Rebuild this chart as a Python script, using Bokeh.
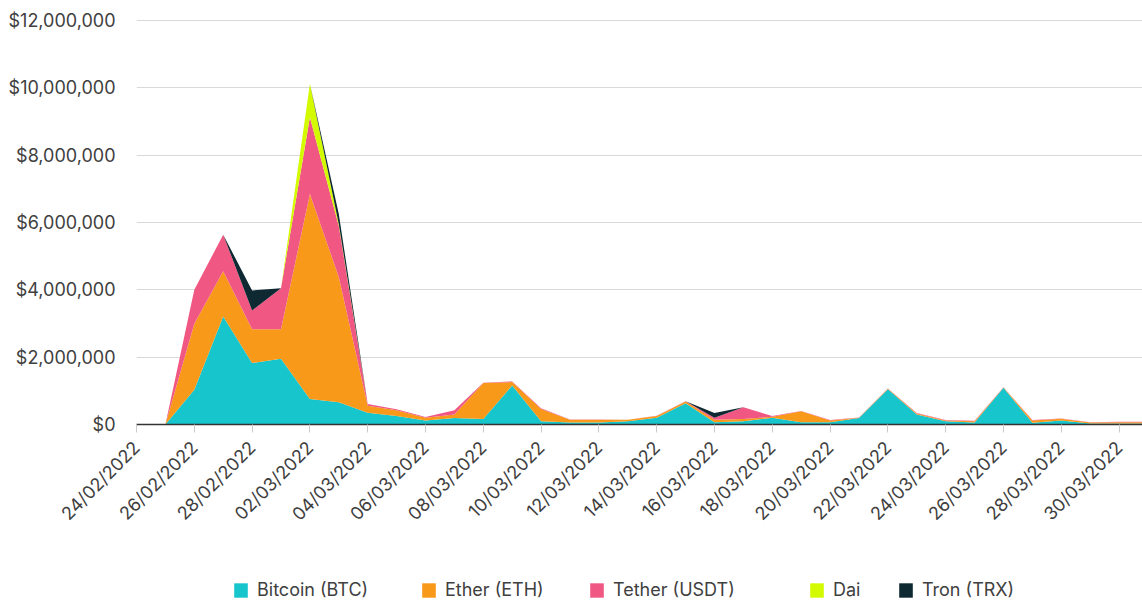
import math
import pandas as pd
from bokeh.plotting import figure
from bokeh.layouts import column
from bokeh.models import (ColumnDataSource, Range1d, FixedTicker, NumeralTickFormatter,
                          Legend, LegendItem)
from bokeh.embed import file_html
from bokeh.resources import INLINE

# ---- data (USD millions per day) ----
dates = pd.date_range("2022-02-24", "2022-03-31", freq="D").strftime("%d/%m/%Y").tolist()

btc = [0, 0, 1.03, 3.21, 1.83, 1.95, 0.76, 0.66, 0.35, 0.25, 0.12, 0.19, 0.16, 1.16,
       0.10, 0.06, 0.06, 0.10, 0.20, 0.63, 0.07, 0.10, 0.20, 0.07, 0.07, 0.19, 1.05,
       0.30, 0.10, 0.06, 1.09, 0.05, 0.12, 0.03, 0.03, 0.03]
eth = [0, 0, 1.96, 1.34, 1.00, 0.88, 6.09, 3.72, 0.21, 0.17, 0.08, 0.11, 1.07, 0.10,
       0.36, 0.08, 0.08, 0.04, 0.05, 0.05, 0.07, 0.06, 0.03, 0.32, 0.05, 0.01, 0.01,
       0.03, 0.02, 0.04, 0.01, 0.07, 0.05, 0.03, 0.04, 0.04]
usdt = [0, 0, 1.01, 1.09, 0.56, 1.22, 2.28, 1.52, 0.05, 0.03, 0.02, 0.12, 0.01, 0.02,
        0.02, 0.01, 0.01, 0.00, 0.01, 0.01, 0.06, 0.35, 0.02, 0.01, 0.01, 0.01, 0.01,
        0.01, 0.01, 0.01, 0.01, 0.01, 0.01, 0.01, 0.01, 0.01]
dai = [0, 0, 0, 0, 0, 0, 0.99, 0.05, 0, 0, 0, 0, 0, 0, 0, 0, 0, 0, 0, 0, 0, 0, 0, 0,
       0, 0, 0, 0, 0, 0, 0, 0, 0, 0, 0, 0]
trx = [0, 0, 0, 0, 0.59, 0, 0, 0.30, 0, 0, 0, 0, 0, 0, 0, 0, 0, 0, 0, 0, 0.14, 0, 0, 0,
       0, 0, 0, 0, 0, 0, 0, 0, 0, 0, 0, 0]

series_names = ["Bitcoin (BTC)", "Ether (ETH)", "Tether (USDT)", "Dai", "Tron (TRX)"]
series_keys = ["btc", "eth", "usdt", "dai", "trx"]
colors = ["#17c6cd", "#f9991a", "#f05883", "#d4fa00", "#0e2932"]
y_ticks = [0, 2e6, 4e6, 6e6, 8e6, 10e6, 12e6]

M = 1e6
source = ColumnDataSource(dict(
    x=list(range(len(dates))),
    btc=[v * M for v in btc],
    eth=[v * M for v in eth],
    usdt=[v * M for v in usdt],
    dai=[v * M for v in dai],
    trx=[v * M for v in trx],
))

FONT = "Inter"
TXT = "#404040"

p = figure(width=1142, height=540, output_backend="svg", toolbar_location=None,
           x_range=Range1d(0, 34.81), y_range=Range1d(0, 12.18e6),
           min_border_left=136, min_border_right=0, min_border_top=14,
           min_border_bottom=116)
p.outline_line_color = None

renderers = p.varea_stack(stackers=series_keys, x="x", color=colors, source=source)

# axes
xa = p.xaxis[0]
xa.ticker = FixedTicker(ticks=list(range(0, 35, 2)))
xa.major_label_overrides = {i: dates[i] for i in range(0, 35, 2)}
xa.major_label_orientation = math.pi / 4
xa.major_label_text_font = FONT
xa.major_label_text_font_size = "18px"
xa.major_label_text_color = TXT
xa.axis_line_color = "#333333"
xa.axis_line_width = 1.5
xa.major_tick_line_color = "#cccccc"
xa.major_tick_out = 8
xa.major_tick_in = 0
xa.minor_tick_line_color = None
xa.major_label_standoff = 12

ya = p.yaxis[0]
ya.ticker = FixedTicker(ticks=y_ticks)
ya.formatter = NumeralTickFormatter(format="$0,0")
ya.major_label_text_font = FONT
ya.major_label_text_font_size = "18px"
ya.major_label_text_color = TXT
ya.axis_line_color = None
ya.major_tick_line_color = None
ya.minor_tick_line_color = None
ya.major_label_standoff = 15

p.xgrid.grid_line_color = None
p.ygrid.grid_line_color = "#d9d9d9"
p.ygrid.grid_line_width = 1

# ---- legend strip below the chart (its frame is aligned with the chart frame) ----
lg = figure(width=1142, height=64, output_backend="svg", toolbar_location=None,
            x_range=Range1d(-3, -2), y_range=Range1d(0, 1),
            x_axis_type=None, y_axis_type=None,
            min_border_left=136, min_border_right=0, min_border_top=0, min_border_bottom=0)
lg.outline_line_color = None
lg.xgrid.visible = False
lg.ygrid.visible = False

# same stacked series (outside this strip's visible range) only to supply legend swatches
legend_renderers = lg.varea_stack(stackers=series_keys, x="x", color=colors, source=source)

legend_x = [96, 284, 452, 672, 761]
for name, r, lx in zip(series_names, legend_renderers, legend_x):
    leg = Legend(items=[LegendItem(label=name, renderers=[r])],
                 location=(lx, 4), orientation="horizontal",
                 border_line_color=None, background_fill_alpha=0,
                 padding=0, margin=0, spacing=0,
                 glyph_width=17, glyph_height=18, label_height=18,
                 label_standoff=8, label_text_font=FONT,
                 label_text_font_size="18px", label_text_color=TXT)
    lg.add_layout(leg)

layout = column(p, lg, spacing=0)
open("out.html", "w").write(file_html(layout, INLINE))
